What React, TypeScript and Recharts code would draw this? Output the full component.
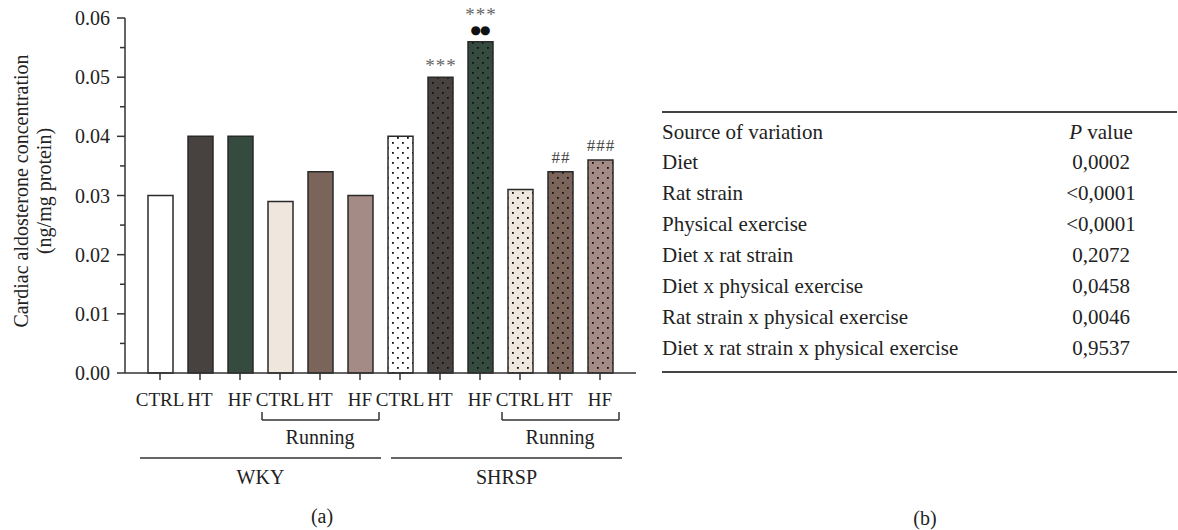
import React from 'react';
import { BarChart, Bar, XAxis, YAxis, Cell, LabelList } from 'recharts';

// group labels along the x axis
const diets = ['CTRL', 'HT', 'HF', 'CTRL', 'HT', 'HF', 'CTRL', 'HT', 'HF', 'CTRL', 'HT', 'HF'];
const strains = ['WKY', 'WKY', 'WKY', 'WKY', 'WKY', 'WKY', 'SHRSP', 'SHRSP', 'SHRSP', 'SHRSP', 'SHRSP', 'SHRSP'];
const exercise = ['', '', '', 'Running', 'Running', 'Running', '', '', '', 'Running', 'Running', 'Running'];

// cardiac aldosterone (ng/mg protein)
const aldosterone = [0.03, 0.04, 0.04, 0.029, 0.034, 0.03, 0.04, 0.05, 0.056, 0.031, 0.034, 0.036];

// significance marks
const stars = ['', '', '', '', '', '', '', '***', '***', '', '', ''];
const dots = ['', '', '', '', '', '', '', '', '●●', '', '', ''];
const hashes = ['', '', '', '', '', '', '', '', '', '', '##', '###'];

const yTicks = [0, 0.005, 0.01, 0.015, 0.02, 0.025, 0.03, 0.035, 0.04, 0.045, 0.05, 0.055, 0.06];

// two-way ANOVA table (b)
const sources = [
  'Diet',
  'Rat strain',
  'Physical exercise',
  'Diet x rat strain',
  'Diet x physical exercise',
  'Rat strain x physical exercise',
  'Diet x rat strain x physical exercise',
];
const pValues = ['0,0002', '<0,0001', '<0,0001', '0,2072', '0,0458', '0,0046', '0,9537'];

const FONT = '"Liberation Serif", "Times New Roman", serif';
const AXIS = '#333';
const TEXT = '#222';
const BAND = 40;

const sedentaryColors: Record<string, string> = { CTRL: '#ffffff', HT: '#474240', HF: '#354b40' };
const runningColors: Record<string, string> = { CTRL: '#efe6dd', HT: '#7b655b', HF: '#a58b85' };

const data = diets.map((d, i) => ({
  name: `${strains[i]}-${exercise[i] || 'Sed'}-${d}`,
  diet: d,
  value: aldosterone[i],
  stars: stars[i],
  dots: dots[i],
  hashes: hashes[i],
}));

const colorOf = (i: number) => (exercise[i] ? runningColors : sedentaryColors)[diets[i]];
const patternId = (i: number) => `dots-${exercise[i] ? 'run' : 'sed'}-${diets[i]}`;

const YTick = (props: any) => {
  const { x, y, payload } = props;
  const major = Math.round(payload.value * 1000) % 10 === 0;
  return (
    <g>
      <line x1={x - (major ? 8 : 5)} x2={x} y1={y} y2={y} stroke={AXIS} strokeWidth={1.5} />
      {major && (
        <text x={x - 15} y={y} dy="0.35em" textAnchor="end" fontFamily={FONT} fontSize={20} fill={TEXT}>
          {payload.value.toFixed(2)}
        </text>
      )}
    </g>
  );
};

const XTick = (props: any) => {
  const { x, y, index } = props;
  const half = BAND / 2;
  const parts: React.ReactNode[] = [];
  parts.push(<line key="t" x1={x} x2={x} y1={y} y2={y + 7} stroke={AXIS} strokeWidth={1.5} />);
  parts.push(
    <text key="l" x={x} y={y + 33} textAnchor="middle" fontFamily={FONT} fontSize={19} fill={TEXT}>
      {diets[index]}
    </text>
  );

  // Running bracket
  if (exercise[index]) {
    const first = exercise[index - 1] !== exercise[index];
    const last = exercise[index + 1] !== exercise[index];
    const l = first ? x - 18 : x - half;
    const r = last ? x + 19 : x + half;
    parts.push(<line key="b" x1={l} x2={r} y1={y + 47} y2={y + 47} stroke={AXIS} strokeWidth={1.5} />);
    if (first) parts.push(<line key="bl" x1={l} x2={l} y1={y + 39} y2={y + 47} stroke={AXIS} strokeWidth={1.5} />);
    if (last) parts.push(<line key="br" x1={r} x2={r} y1={y + 39} y2={y + 47} stroke={AXIS} strokeWidth={1.5} />);
    if (!first && !last) {
      parts.push(
        <text key="rt" x={x} y={y + 71} textAnchor="middle" fontFamily={FONT} fontSize={20} fill={TEXT}>
          {exercise[index]}
        </text>
      );
    }
  }

  // strain line + label, drawn once from the first tick of each group
  if (strains[index - 1] !== strains[index]) {
    let n = 0;
    while (strains[index + n] === strains[index]) n++;
    const l = x - half + (index > 0 ? 11 : 0);
    const r = x + (n - 1) * BAND + half + (index > 0 ? 2 : 1);
    parts.push(<line key="s" x1={l} x2={r} y1={y + 85} y2={y + 85} stroke={AXIS} strokeWidth={1.5} />);
    parts.push(
      <text key="st" x={(l + r) / 2} y={y + 111} textAnchor="middle" fontFamily={FONT} fontSize={20} fill={TEXT}>
        {strains[index]}
      </text>
    );
  }
  return <g>{parts}</g>;
};

// text mark centred over a bar; extra lift when the bar also carries dots
const MarkLabel = (offset: number, lifted: number, size: number, color: string, family: string, spacing: number) =>
  (props: any) => {
    const { x, y, width, value, index } = props;
    if (!value) return null;
    const off = dots[index] && lifted ? lifted : offset;
    return (
      <text
        x={x + width / 2 + spacing / 2}
        y={y - off}
        textAnchor="middle"
        fontFamily={family}
        fontSize={size}
        letterSpacing={spacing}
        fill={color}
      >
        {value}
      </text>
    );
  };

export default function App() {
  return (
    <div style={{ position: 'fixed', left: 0, top: 0, width: 1178, height: 530, background: '#fff' }}>
      <BarChart
        width={700}
        height={530}
        data={data}
        margin={{ top: 18, right: 64, bottom: 0, left: 0 }}
        barSize={25}
      >
        <defs>
          {diets.slice(0, 6).map((d, i) => (
            <pattern key={i} id={patternId(i)} width={10} height={10} patternUnits="userSpaceOnUse">
              <rect width={10} height={10} fill={colorOf(i)} />
              <rect x={2} y={2} width={1.8} height={1.8} fill="#111" />
              <rect x={7} y={7} width={1.8} height={1.8} fill="#111" />
            </pattern>
          ))}
        </defs>
        <XAxis
          dataKey="name"
          type="category"
          height={157}
          interval={0}
          padding={{ left: 15, right: 16 }}
          tickSize={0}
          tickMargin={0}
          tickLine={false}
          tick={<XTick />}
          axisLine={{ stroke: AXIS, strokeWidth: 1.5 }}
        />
        <YAxis
          width={125}
          domain={[0, 0.06]}
          ticks={yTicks}
          interval={0}
          tickSize={0}
          tickMargin={0}
          tickLine={false}
          tick={<YTick />}
          axisLine={{ stroke: AXIS, strokeWidth: 1.5 }}
        />
        <Bar dataKey="value" isAnimationActive={false} stroke="#2a2a2a" strokeWidth={1.5}>
          {data.map((_, i) => (
            <Cell key={i} fill={strains[i] === 'SHRSP' ? `url(#${patternId(i % 6)})` : colorOf(i)} />
          ))}
          <LabelList dataKey="stars" content={MarkLabel(5, 21, 19, '#666', FONT, 1)} />
          <LabelList dataKey="dots" content={MarkLabel(8, 0, 12, '#111', '"DejaVu Sans", sans-serif', -1)} />
          <LabelList dataKey="hashes" content={MarkLabel(9, 0, 17, '#444', FONT, 1)} />
        </Bar>
      </BarChart>

      {/* y axis title */}
      <svg style={{ position: 'absolute', left: 0, top: 0 }} width={70} height={400}>
        <text transform="translate(28,191) rotate(-90)" textAnchor="middle" fontFamily={FONT} fontSize={20} fill={TEXT}>
          Cardiac aldosterone concentration
        </text>
        <text transform="translate(51,191) rotate(-90)" textAnchor="middle" fontFamily={FONT} fontSize={20} fill={TEXT}>
          (ng/mg protein)
        </text>
      </svg>

      {/* panel labels and table (b) */}
      <svg style={{ position: 'absolute', left: 0, top: 0 }} width={1178} height={530} pointerEvents="none">
        <text x={322} y={523} textAnchor="middle" fontFamily={FONT} fontSize={20} fill={TEXT}>
          (a)
        </text>
        <line x1={662} x2={1177} y1={112} y2={112} stroke="#444" strokeWidth={2} />
        <text x={662} y={139} fontFamily={FONT} fontSize={21} fill={TEXT}>
          Source of variation
        </text>
        <text x={1101} y={139} textAnchor="middle" fontFamily={FONT} fontSize={21} fill={TEXT}>
          <tspan fontStyle="italic">P</tspan> value
        </text>
        {sources.map((s, i) => (
          <g key={s}>
            <text x={662} y={169 + i * 31} fontFamily={FONT} fontSize={21} fill={TEXT}>
              {s}
            </text>
            <text x={1101} y={169 + i * 31} textAnchor="middle" fontFamily={FONT} fontSize={21} fill={TEXT}>
              {pValues[i]}
            </text>
          </g>
        ))}
        <line x1={662} x2={1177} y1={372} y2={372} stroke="#444" strokeWidth={2} />
        <text x={925} y={525} textAnchor="middle" fontFamily={FONT} fontSize={20} fill={TEXT}>
          (b)
        </text>
      </svg>
    </div>
  );
}
